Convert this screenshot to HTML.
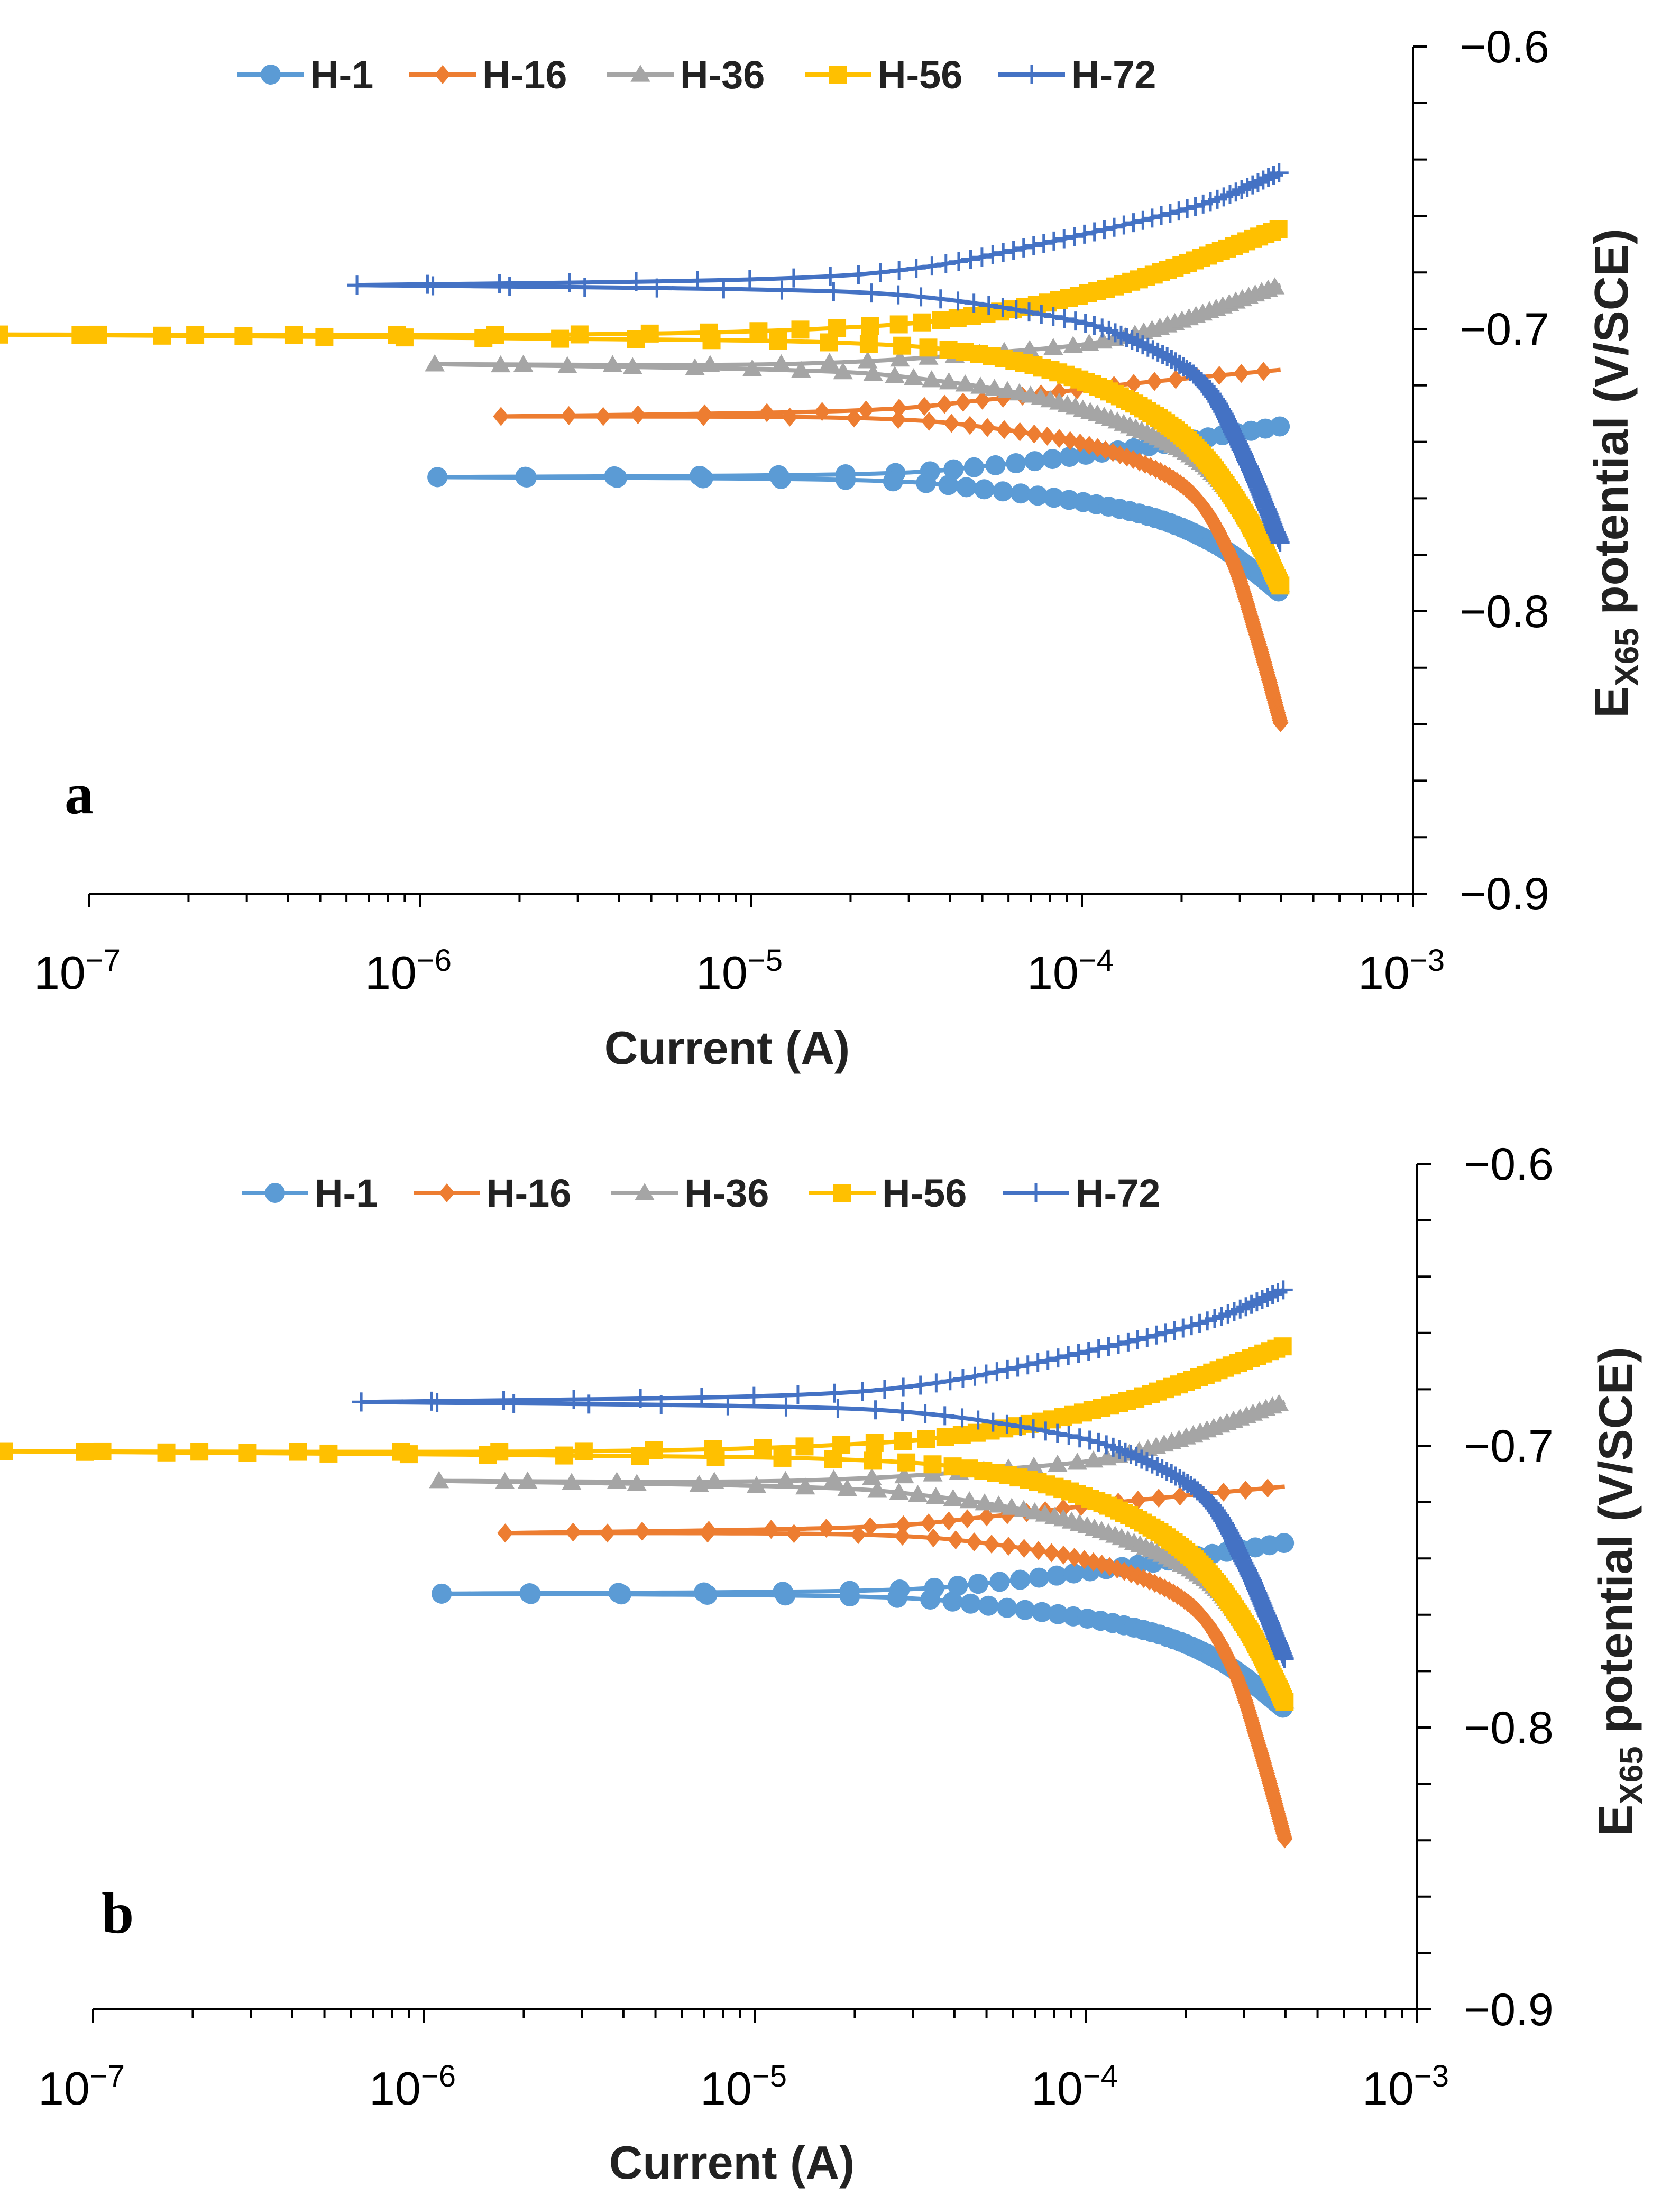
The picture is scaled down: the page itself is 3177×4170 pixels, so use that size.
<!DOCTYPE html>
<html><head><meta charset="utf-8"><style>
html,body{margin:0;padding:0;background:#fff;}
svg{display:block;font-family:"Liberation Sans",sans-serif;}
</style></head><body>
<svg id="chart" width="3177" height="4170" viewBox="0 0 3177 4170" xmlns="http://www.w3.org/2000/svg"></svg>
<script>
const seriesNames=["H-1","H-16","H-36","H-56","H-72"];
const seriesColors=["#5B9BD5","#ED7D31","#A5A5A5","#FFC000","#4472C4"];
const seriesMarkers=["circle","diamond","triangle","square","plus"];
// start point (log10 I, E) for each series
const startLogI=[-5.947,-5.755,-5.955,-7.27,-6.19];
const startE=[-0.7525,-0.731,-0.7125,-0.702,-0.6845];
// anodic (upper) branches
const anodicLogI=[
 [-4.71,-4.28,-3.857,-3.40],
 [-4.71,-4.28,-3.857,-3.40],
 [-4.92,-4.28,-3.857,-3.40],
 [-5.56,-4.71,-4.28,-3.857,-3.40],
 [-5.01,-4.50,-4.07,-3.64,-3.40]];
const anodicE=[
 [-0.7515,-0.7485,-0.7425,-0.7345],
 [-0.729,-0.725,-0.7195,-0.7145],
 [-0.7125,-0.7085,-0.7025,-0.6845],
 [-0.702,-0.6995,-0.6945,-0.6835,-0.6645],
 [-0.6825,-0.6785,-0.6685,-0.656,-0.6445]];
// cathodic (lower) branches
const cathodicLogI=[
 [-4.71,-4.28,-3.857,-3.60,-3.40],
 [-4.71,-4.28,-3.94,-3.69,-3.559,-3.473,-3.40],
 [-4.92,-4.50,-4.07,-3.69,-3.52,-3.40],
 [-5.56,-4.71,-4.28,-3.94,-3.69,-3.52,-3.40],
 [-5.01,-4.50,-4.07,-3.857,-3.64,-3.516,-3.40]];
const cathodicE=[
 [-0.7535,-0.757,-0.7645,-0.776,-0.7935],
 [-0.7315,-0.735,-0.7425,-0.756,-0.7785,-0.8085,-0.8395],
 [-0.7145,-0.7175,-0.726,-0.7435,-0.7635,-0.791],
 [-0.7035,-0.705,-0.7095,-0.721,-0.7385,-0.7635,-0.791],
 [-0.686,-0.6885,-0.696,-0.7035,-0.7185,-0.7435,-0.776]];
const xTickExp=[-7,-6,-5,-4,-3];
const yTicks=[-0.6,-0.7,-0.8,-0.9];

const NS="http://www.w3.org/2000/svg";
const svg=document.getElementById("chart");
function mk(tag,attrs,parent){const e=document.createElementNS(NS,tag);for(const k in attrs)e.setAttribute(k,attrs[k]);(parent||svg).appendChild(e);return e;}

function marker(g,type,x,y,color,s){
  let e;
  if(type==="circle"){e=mk("circle",{cx:x,cy:y,r:s,fill:color},g);}
  else if(type==="diamond"){e=mk("polygon",{points:`${x},${y-s*1.2} ${x+s},${y} ${x},${y+s*1.2} ${x-s},${y}`,fill:color},g);}
  else if(type==="triangle"){e=mk("polygon",{points:`${x},${y-s*1.1} ${x+s*1.1},${y+s*0.8} ${x-s*1.1},${y+s*0.8}`,fill:color},g);}
  else if(type==="square"){e=mk("rect",{x:x-s,y:y-s,width:2*s,height:2*s,fill:color},g);}
  else {e=mk("path",{d:`M${x-s},${y}H${x+s}M${x},${y-s}V${y+s}`,stroke:color,"stroke-width":5},g);}
  
  
}

function smooth(pts){
  const out=[pts[0]];
  for(let i=0;i<pts.length-1;i++){
    const p0=pts[Math.max(0,i-1)],p1=pts[i],p2=pts[i+1],p3=pts[Math.min(pts.length-1,i+2)];
    for(let k=1;k<=20;k++){const t=k/20,t2=t*t,t3=t2*t;
      const f=(a,b,c,d)=>0.5*((2*b)+(-a+c)*t+(2*a-5*b+4*c-d)*t2+(-a+3*b-3*c+d)*t3);
      out.push([f(p0[0],p1[0],p2[0],p3[0]),f(p0[1],p1[1],p2[1],p3[1])]);}
  }
  return out;
}

function drawPanel(P){
  const X=l=>P.x0+(l+7)*(P.x1-P.x0)/4;
  const Y=v=>P.yTop+(-0.6-v)*(P.yBot-P.yTop)/0.3;
  const g=mk("g",{});
  
  
  const xa=mk("line",{x1:P.x0,y1:P.yBot,x2:P.x1,y2:P.yBot,stroke:"#000","stroke-width":4},g);
  
  const ya=mk("line",{x1:P.x1,y1:P.yTop,x2:P.x1,y2:P.yBot,stroke:"#000","stroke-width":4},g);
  
  for(let d=-7;d<-3;d++){for(let m=1;m<10;m++){const x=X(d+Math.log10(m));
    const t=mk("line",{x1:x,y1:P.yBot,x2:x,y2:P.yBot+(m===1?26:16),stroke:"#000","stroke-width":4},g);
    }}
  const tl=mk("line",{x1:P.x1,y1:P.yBot,x2:P.x1,y2:P.yBot+26,stroke:"#000","stroke-width":4},g);
  
  xTickExp.forEach(e=>{
    const t=mk("text",{x:X(e)-22,y:P.yBot+180,"font-size":88,"text-anchor":"middle",fill:"#000"},g);
    t.textContent="10";const sp=mk("tspan",{dy:-34,"font-size":58},t);sp.textContent="\u2212"+(-e);
    
  });
  for(let i=0;i<=15;i++){const v=-0.6-i*0.02;const y=Y(v);
    const t=mk("line",{x1:P.x1,y1:y,x2:P.x1+26,y2:y,stroke:"#000","stroke-width":4},g);
    }
  yTicks.forEach(v=>{
    const t=mk("text",{x:P.x1+88,y:Y(v)+30,"font-size":86,fill:"#000"},g);
    t.textContent="\u2212"+Math.abs(v).toFixed(1);
    
  });
  const xt=mk("text",{x:P.xtX,y:P.xtY,"font-size":88,"font-weight":"bold","text-anchor":"middle",fill:"#222"},g);
  xt.textContent="Current (A)";
  const yt=mk("text",{x:0,y:0,"font-size":90,"font-weight":"bold","text-anchor":"middle",fill:"#222",transform:`translate(${P.ytX},${P.ytY}) rotate(-90)`},g);
  yt.textContent="E";const sb=mk("tspan",{dy:20,"font-size":62},yt);sb.textContent="X65";
  const rest=mk("tspan",{dy:-20},yt);rest.textContent=" potential (V/SCE)";
  
  const lb=mk("text",{x:P.lbX,y:P.lbY,"font-size":110,"font-weight":"bold","font-family":"Liberation Serif, serif",fill:"#000"},g);
  lb.textContent=P.label;
  const sizes=[19,15,17,17,18];
  seriesNames.forEach((nm,s)=>{
    const sg=mk("g",{},g);
    
    
    [[anodicLogI[s],anodicE[s]],[cathodicLogI[s],cathodicE[s]]].forEach(([L,E])=>{
      const raw=[[startLogI[s],startE[s]]].concat(L.map((l,i)=>[l,E[i]]));
      const pts=smooth(raw);
      const d=pts.map((p,i)=>(i?"L":"M")+X(p[0]).toFixed(1)+","+Y(p[1]).toFixed(1)).join("");
      const pl=mk("path",{d:d,fill:"none",stroke:seriesColors[s],"stroke-width":8,"stroke-linejoin":"round"},sg);
      
      const step=0.0009;let acc=0;
      marker(sg,seriesMarkers[s],X(pts[0][0]),Y(pts[0][1]),seriesColors[s],sizes[s]);
      for(let i=1;i<pts.length;i++){
        const a=pts[i-1],b=pts[i];const dE=Math.abs(b[1]-a[1]);
        const dx=Math.abs(X(b[0])-X(a[0]));
        const segLen=dE+dx/220000;
        let t=step-acc;
        while(t<=segLen){const f=t/segLen;
          marker(sg,seriesMarkers[s],X(a[0]+(b[0]-a[0])*f),Y(a[1]+(b[1]-a[1])*f),seriesColors[s],sizes[s]);t+=step;}
        acc=segLen-(t-step);
      }
    });
  });
  const lg=mk("g",{},g);
  
  const lx=P.legX;
  seriesNames.forEach((nm,s)=>{
    const eg=mk("g",{},lg);
    
    
    const x0=lx[s];
    mk("line",{x1:x0,y1:P.legY,x2:x0+126,y2:P.legY,stroke:seriesColors[s],"stroke-width":8},eg);
    marker(eg,seriesMarkers[s],x0+63,P.legY,seriesColors[s],sizes[s]);
    const t=mk("text",{x:x0+138,y:P.legY+26,"font-size":74,"font-weight":"bold",fill:"#222"},eg);
    t.textContent=nm;
  });
}
drawPanel({label:"a",x0:168,x1:2672,yTop:88,yBot:1690,xtX:1375,xtY:2012,ytX:3078,ytY:895,lbX:122,lbY:1538,
  legX:[449,774,1148,1522,1888],legY:141});
drawPanel({label:"b",x0:176,x1:2680,yTop:2201,yBot:3800,xtX:1384,xtY:4120,ytX:3086,ytY:3010,lbX:192,lbY:3655,
  legX:[457,782,1156,1530,1896],legY:2256});
</script>
</body></html>
